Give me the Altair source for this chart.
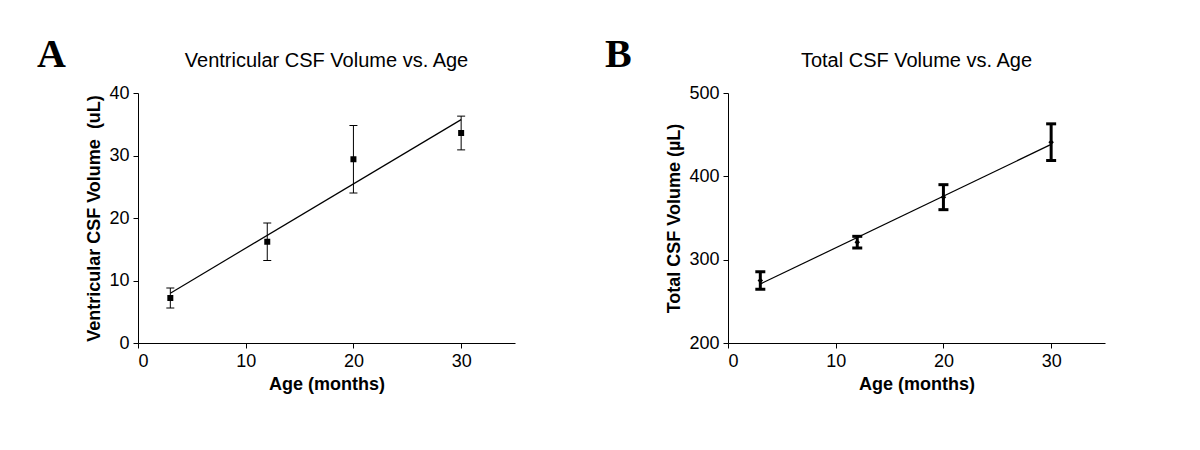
import altair as alt
import pandas as pd

# ---- data ----
age = [3, 12, 20, 30]

vent_mean = [7.2, 16.2, 29.4, 33.6]
vent_sem = [1.6, 3.0, 5.4, 2.7]

total_mean = [275, 321, 375, 441]
total_sem = [10.5, 7.0, 15.0, 22.0]

x_ticks = [0, 10, 20, 30]
vent_ticks = [0, 10, 20, 30, 40]
total_ticks = [200, 300, 400, 500]

FONT = "Liberation Sans"
W, H = 377, 250


def make_df(mean, sem):
    return pd.DataFrame({
        "age": age,
        "mean": mean,
        "lo": [m - s for m, s in zip(mean, sem)],
        "hi": [m + s for m, s in zip(mean, sem)],
    })


def panel(df, letter, letter_x, title, ytitle, ydomain, yticks, shape, msize, ew, capw):
    base = alt.Chart(df)
    x = alt.X("age:Q", scale=alt.Scale(domain=[0, 35], nice=False),
              axis=alt.Axis(values=x_ticks, title="Age (months)"))
    y = alt.Y("mean:Q", scale=alt.Scale(domain=ydomain, nice=False, zero=False),
              axis=alt.Axis(values=yticks, title=ytitle))

    bars = base.mark_rule(color="black", strokeWidth=ew).encode(
        x=x, y=alt.Y("lo:Q"), y2="hi:Q")
    cap_lo = base.mark_rule(color="black", strokeWidth=ew, xOffset=-capw, x2Offset=capw).encode(
        x="age:Q", x2="age:Q", y="lo:Q")
    cap_hi = base.mark_rule(color="black", strokeWidth=ew, xOffset=-capw, x2Offset=capw).encode(
        x="age:Q", x2="age:Q", y="hi:Q")
    pts = base.mark_point(shape=shape, filled=True, color="black", size=msize, opacity=1).encode(
        x="age:Q", y=y)
    line = base.transform_regression("age", "mean", extent=[3, 30]).mark_line(
        color="black", strokeWidth=1.2).encode(x="age:Q", y="mean:Q")
    lab = alt.Chart(pd.DataFrame({"t": [letter]})).mark_text(
        font="Liberation Serif", fontWeight="bold", fontSize=40, align="left",
        baseline="alphabetic", color="black").encode(
        text="t:N", x=alt.value(letter_x), y=alt.value(-26.5))
    ttl = alt.Chart(pd.DataFrame({"t": [title]})).mark_text(
        font=FONT, fontSize=20, align="center", baseline="alphabetic",
        color="black").encode(
        text="t:N", x=alt.value(W / 2), y=alt.value(-26.5))

    return alt.layer(pts, bars, cap_lo, cap_hi, line, lab, ttl).properties(width=W, height=H)


a = panel(make_df(vent_mean, vent_sem), "A", -101, "Ventricular CSF Volume vs. Age",
          "Ventricular CSF Volume\u00a0 (uL)", [0, 40], vent_ticks, "square", 36, 1, 4)
b = panel(make_df(total_mean, total_sem), "B", -123, "Total CSF Volume vs. Age",
          "Total CSF Volume (µL)", [200, 500], total_ticks, "diamond", 30, 3, 5)

chart = alt.hconcat(a, b, spacing=90).properties(
    padding={"left": 29, "top": 26, "right": 5, "bottom": 5},
    background="white",
).configure_view(stroke=None).configure_axis(
    domainColor="black", domainWidth=1, tickColor="black", tickSize=5, tickWidth=1,
    labelColor="black", labelFont=FONT, labelFontSize=18, labelPadding=4,
    titleColor="black", titleFont=FONT, titleFontSize=18, titleFontWeight="bold",
    titlePadding=5, grid=False,
)

chart.save("out.html", embed_options={"renderer": "svg", "actions": False})
